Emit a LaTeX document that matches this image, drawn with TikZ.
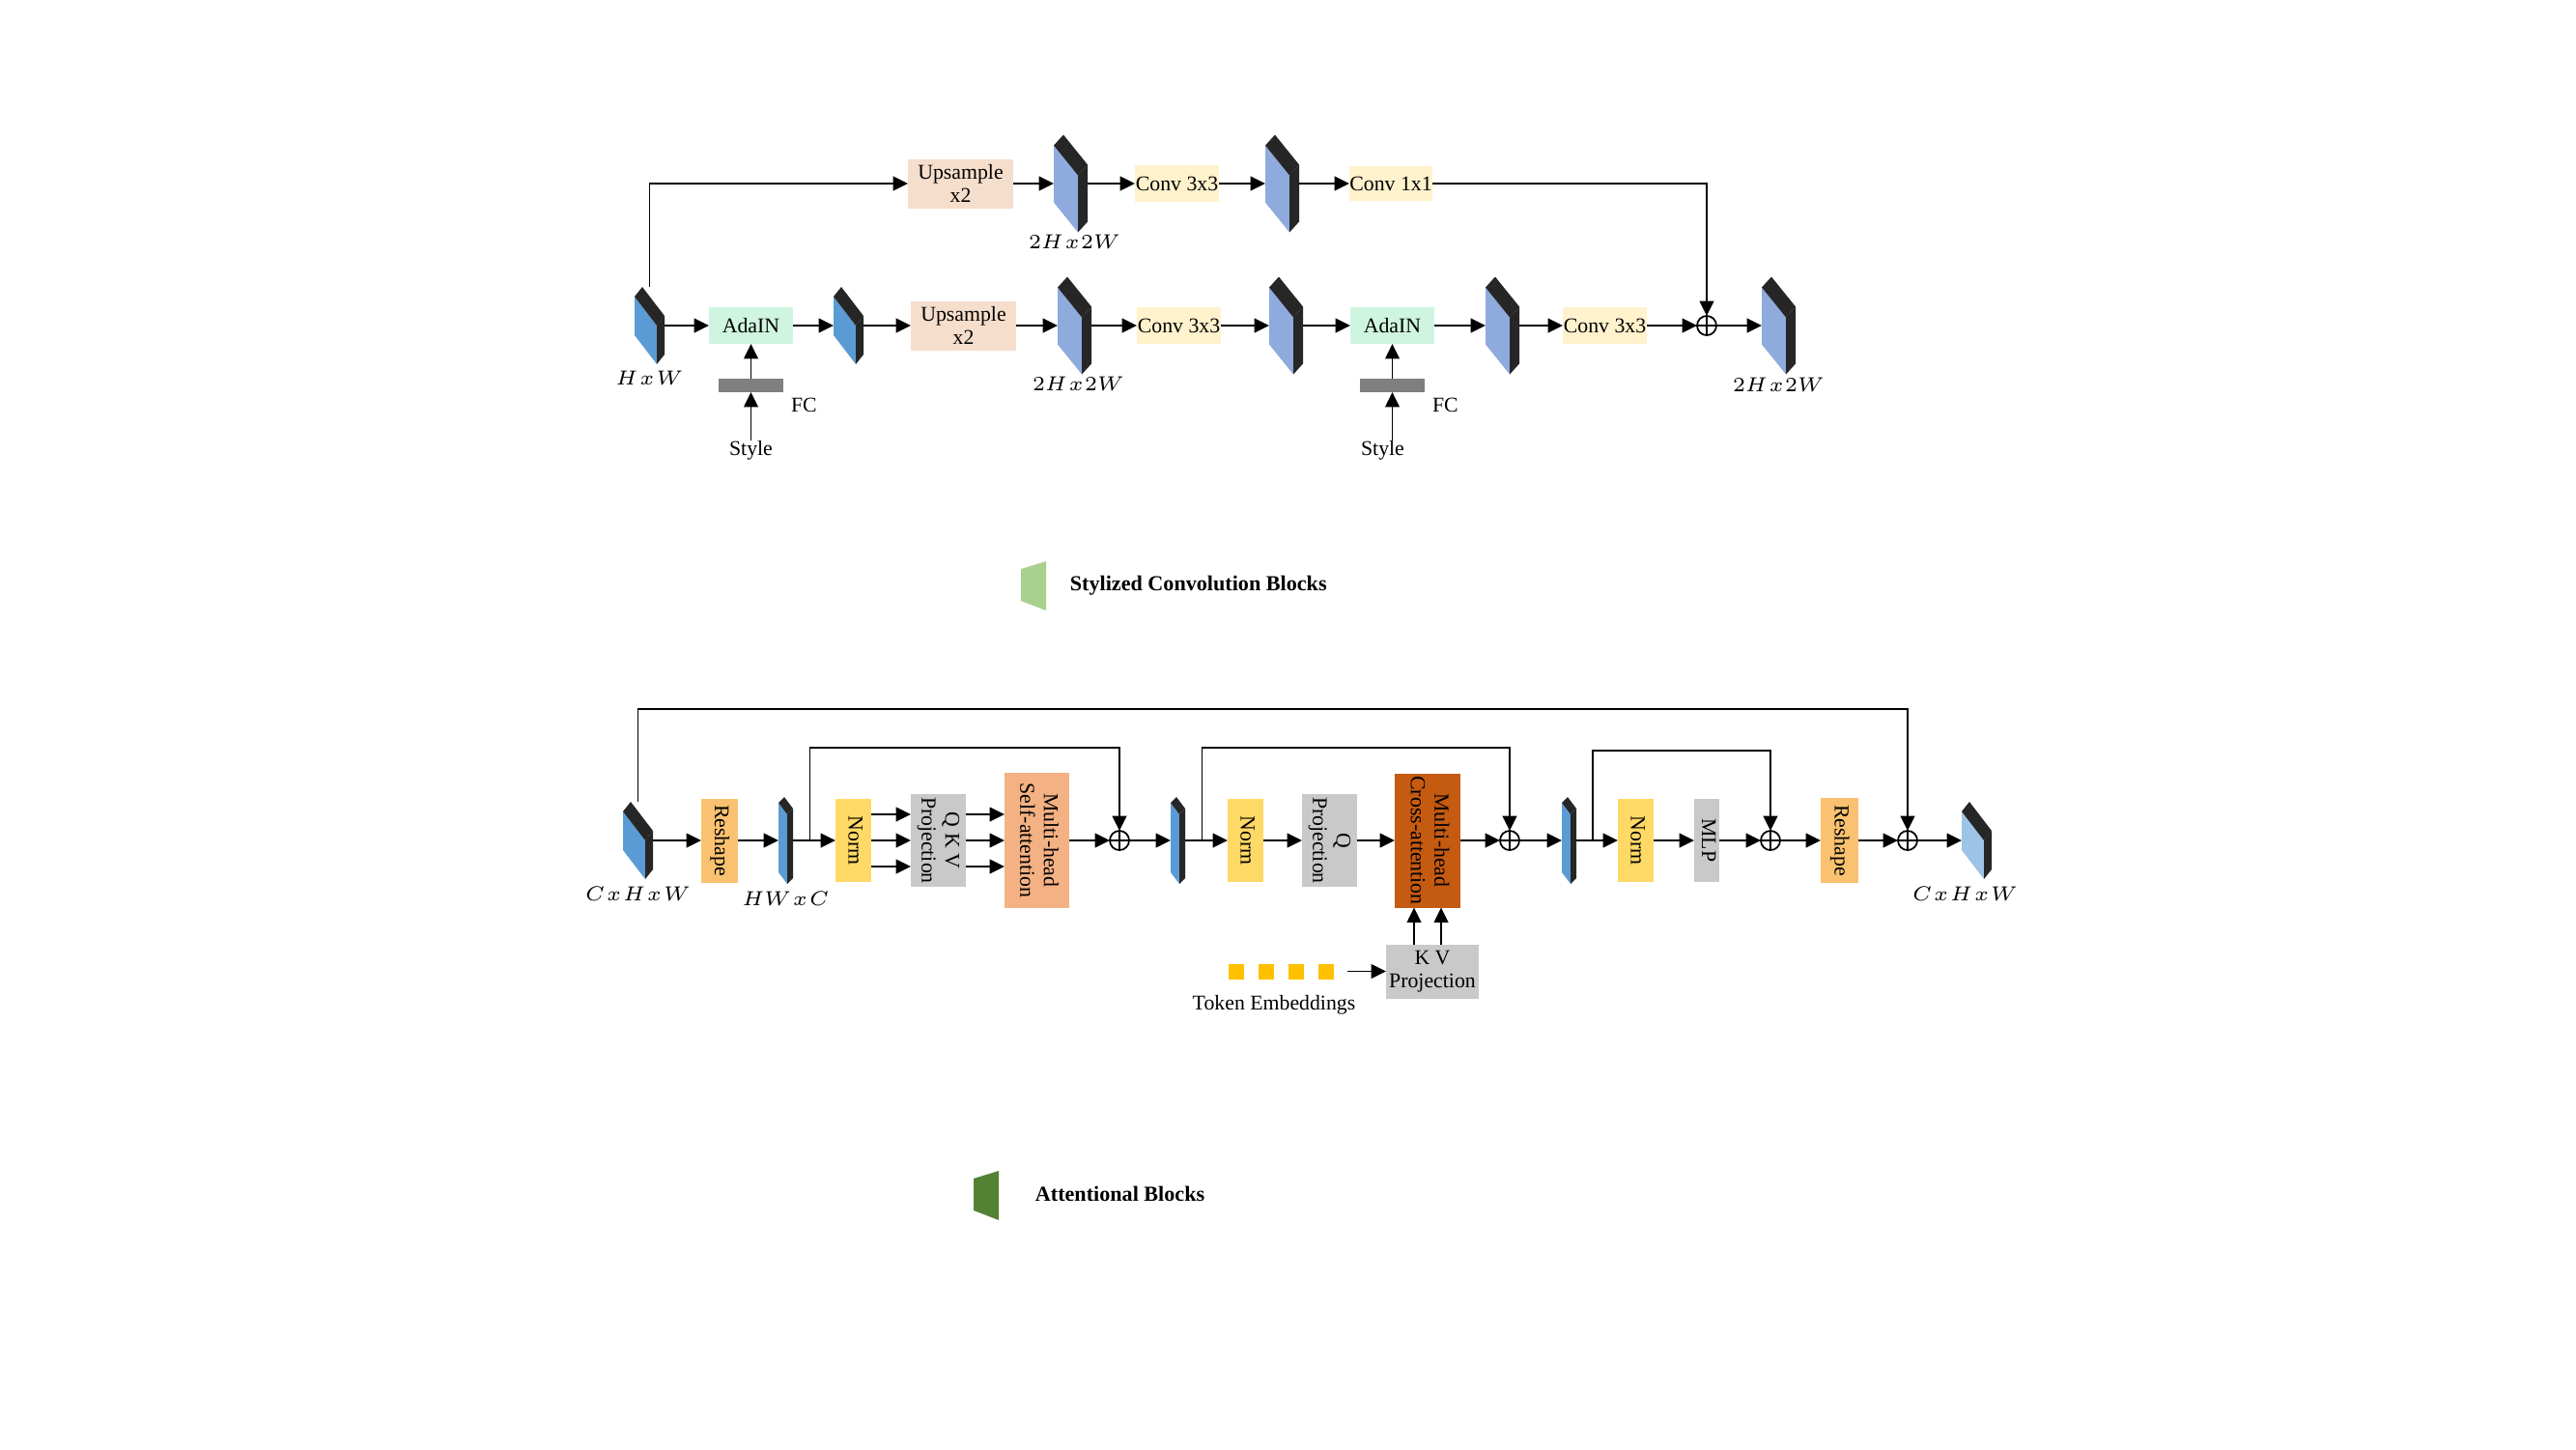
\documentclass[tikz,border=0pt]{standalone}
\usepackage{fontspec}
\setmainfont{Liberation Serif}
\usepackage{tikz}
\usetikzlibrary{positioning, calc, arrows.meta}
\definecolor{mapblue}{HTML}{5B9BD5}
\definecolor{maplav}{HTML}{8FAADC}
\definecolor{maplight}{HTML}{9DC3E6}
\definecolor{mapdark}{HTML}{262626}
\definecolor{upcol}{RGB}{246,222,204}
\definecolor{convcol}{HTML}{FFF2CC}
\definecolor{adacol}{RGB}{207,245,224}
\definecolor{fcgray}{HTML}{7F7F7F}
\definecolor{reshapecol}{RGB}{250,194,112}
\definecolor{normcol}{HTML}{FFD966}
\definecolor{projgray}{HTML}{C9C9C9}
\definecolor{sacol}{HTML}{F4B183}
\definecolor{cacol}{HTML}{C55A11}
\definecolor{tokcol}{HTML}{FFC000}
\definecolor{leglight}{HTML}{A9D18E}
\definecolor{legdark}{HTML}{548235}
\newcommand{\vtext}[1]{\rotatebox{-90}{\begin{tabular}{@{}c@{}}#1\end{tabular}}}
\makeatletter
\tikzset{
    fmap/.style={
        path picture={
            \fill[\fmap@front] ([yshift=-\fmap@dy]path picture bounding box.north west) -- ++(\fmap@w,-\fmap@s) -- ++(0,-\fmap@h) -- ++(-\fmap@w,\fmap@s) -- cycle;
            \fill[mapdark] ([yshift=-\fmap@dy]path picture bounding box.north west) -- ++(\fmap@dx,\fmap@dy) -- ++(\fmap@w,-\fmap@s) -- ++(-\fmap@dx,-\fmap@dy) -- cycle;
            \fill[mapdark] ([yshift=-\fmap@dy]path picture bounding box.north west) ++(\fmap@w,-\fmap@s) -- ++(\fmap@dx,\fmap@dy) -- ++(0,-\fmap@h) -- ++(-\fmap@dx,-\fmap@dy) -- cycle;
        },
        minimum width=\fmap@w+\fmap@dx,
        minimum height=\fmap@h+\fmap@s+\fmap@dy,
        inner sep=0pt, outer sep=0pt,
    },
    fmap width/.store in=\fmap@w,
    fmap height/.store in=\fmap@h,
    fmap slant/.store in=\fmap@s,
    fmap dx/.store in=\fmap@dx,
    fmap dy/.store in=\fmap@dy,
    fmap front/.store in=\fmap@front,
    fmap width=0.23cm, fmap height=0.40cm, fmap slant=0.30cm,
    fmap dx=0.08cm, fmap dy=0.10cm, fmap front=mapblue,
    smallmap/.style={fmap, fmap width=0.23cm, fmap height=0.40cm, fmap slant=0.30cm, fmap dx=0.08cm, fmap dy=0.10cm, fmap front=mapblue},
    bigmap/.style={fmap, fmap width=0.25cm, fmap height=0.59cm, fmap slant=0.31cm, fmap dx=0.10cm, fmap dy=0.11cm, fmap front=maplav},
    thinmap/.style={fmap, fmap width=0.09cm, fmap height=0.72cm, fmap slant=0.12cm, fmap dx=0.06cm, fmap dy=0.06cm, fmap front=mapblue},
    hbox/.style={rectangle, inner sep=0pt, outer sep=0pt, align=center},
    upbox/.style={hbox, fill=upcol, minimum width=1.09cm, minimum height=0.51cm},
    convbox/.style={hbox, fill=convcol, minimum width=0.87cm, minimum height=0.38cm},
    adabox/.style={hbox, fill=adacol, minimum width=0.87cm, minimum height=0.38cm},
    fcbar/.style={hbox, fill=fcgray, minimum width=0.67cm, minimum height=0.14cm},
    reshapebox/.style={hbox, fill=reshapecol, minimum width=0.38cm, minimum height=0.87cm},
    normbox/.style={hbox, fill=normcol, minimum width=0.37cm, minimum height=0.86cm},
    projbox/.style={hbox, fill=projgray, minimum width=0.57cm, minimum height=0.96cm},
    attbox/.style={hbox, minimum width=0.67cm, minimum height=1.40cm},
    token/.style={hbox, fill=tokcol, minimum size=0.16cm},
    oplus/.style={circle, draw, inner sep=0pt, outer sep=0pt, minimum size=0.2cm,
        path picture={\draw (path picture bounding box.north) -- (path picture bounding box.south) (path picture bounding box.west) -- (path picture bounding box.east);}},
    txt/.style={inner sep=0pt, outer sep=0pt},
    mathlbl/.style={inner sep=0pt, outer sep=0pt, font=\fontsize{6.4}{7.5}\selectfont},
    legendtxt/.style={inner sep=0pt, font=\fontsize{6.3}{7}\selectfont\bfseries},
}
\makeatother

\begin{document}
\begin{tikzpicture}[>={Triangle[length=4.4pt,width=4.2pt]}, line width=0.5pt, node distance=0pt, font=\fontsize{6.2}{7}\selectfont]
    \useasboundingbox (0,0) rectangle (26.67,-15);

    % stylized convolution block, main row
    \node[smallmap] (m_in) at (6.725,-3.37) {};
    \node[adabox] (ada1) [right=0.46cm of m_in] {AdaIN};
    \node[smallmap] (m_a1) [right=0.42cm of ada1] {};
    \node[upbox] (up2) [right=0.49cm of m_a1] {Upsample\\x2};
    \node[bigmap] (m_u2) [right=0.43cm of up2] {};
    \node[convbox] (cv2) [right=0.47cm of m_u2] {Conv 3x3};
    \node[bigmap] (m_c2) [right=0.50cm of cv2] {};
    \node[adabox] (ada2) [right=0.49cm of m_c2] {AdaIN};
    \node[bigmap] (m_a2) [right=0.53cm of ada2] {};
    \node[convbox] (cv3) [right=0.45cm of m_a2] {Conv 3x3};
    \node[oplus] (add1) [right=0.52cm of cv3] {};
    \node[bigmap] (m_out) [right=0.47cm of add1] {};

    % upper row
    \node[upbox] (up1) [above=0.96cm of up2, xshift=-0.03cm] {Upsample\\x2};
    \node[bigmap] (m_u1) [right=0.42cm of up1] {};
    \node[convbox] (cv1) [right=0.49cm of m_u1] {Conv 3x3};
    \node[bigmap] (m_c1) [right=0.48cm of cv1] {};
    \node[convbox, minimum width=0.86cm, minimum height=0.36cm] (cv11) [right=0.52cm of m_c1] {Conv 1x1};

    % style inputs
    \node[fcbar] (fc1) [below=0.36cm of ada1] {};
    \node[txt] (sty1) [below=0.5cm of fc1] {Style};
    \node[txt] (fcl1) [below right=0.06cm and 0.08cm of fc1] {FC};
    \node[fcbar] (fc2) [below=0.36cm of ada2] {};
    \node[txt] (sty2) [below=0.5cm of fc2, xshift=-0.1cm] {Style};
    \node[txt] (fcl2) [below right=0.06cm and 0.08cm of fc2] {FC};

    \node[mathlbl] (l_in) [below=0.07cm of m_in] {$H\mkern1.5mu x\mkern1.5mu W$};
    \node[mathlbl] (l_u1) [below=0.03cm of m_u1, xshift=0.04cm] {$2H\mkern1.5mu x\mkern1mu 2W$};
    \node[mathlbl] (l_u2) [below=0.03cm of m_u2, xshift=0.04cm] {$2H\mkern1.5mu x\mkern1mu 2W$};
    \node[mathlbl] (l_out) [below=0.04cm of m_out] {$2H\mkern1.5mu x\mkern1mu 2W$};

    \draw [->] (m_in) -- (ada1);
    \draw [->] (ada1) -- (m_a1);
    \draw [->] (m_a1) -- (up2);
    \draw [->] (up2) -- (m_u2);
    \draw [->] (m_u2) -- (cv2);
    \draw [->] (cv2) -- (m_c2);
    \draw [->] (m_c2) -- (ada2);
    \draw [->] (ada2) -- (m_a2);
    \draw [->] (m_a2) -- (cv3);
    \draw [->] (cv3) -- (add1);
    \draw [->] (add1) -- (m_out);
    \draw [->] (m_in.north) |- (up1);
    \draw [->] (up1) -- (m_u1);
    \draw [->] (m_u1) -- (cv1);
    \draw [->] (cv1) -- (m_c1);
    \draw [->] (m_c1) -- (cv11);
    \draw [->] (cv11) -| (add1);
    \draw [->] (sty1) -- (fc1);
    \draw [->] (fc1) -- (ada1);
    \draw [->] (sty2.north -| fc2) -- (fc2);
    \draw [->] (fc2) -- (ada2);

    % legends
    \fill[leglight] (10.57,-5.89) -- (10.83,-5.81) -- (10.83,-6.32) -- (10.57,-6.22) -- cycle;
    \node[legendtxt, anchor=west] (leg1) at (11.07,-6.06) {Stylized Convolution Blocks};
    \fill[legdark] (10.08,-12.20) -- (10.34,-12.12) -- (10.34,-12.63) -- (10.08,-12.53) -- cycle;
    \node[legendtxt, anchor=west] (leg2) at (10.71,-12.36) {Attentional Blocks};

    % attentional block
    \node[smallmap] (b_in) at (6.605,-8.70) {};
    \node[reshapebox] (rs1) [right=0.50cm of b_in] {\vtext{Reshape}};
    \node[thinmap] (b_hw) [right=0.42cm of rs1] {};
    \node[normbox] (nm1) [right=0.44cm of b_hw] {\vtext{Norm}};
    \node[projbox] (qkv) [right=0.41cm of nm1] {\vtext{Q K V\\Projection}};
    \node[attbox, fill=sacol] (msa) [right=0.40cm of qkv] {\vtext{Multi-head\\Self-attention}};
    \node[oplus] (add2) [right=0.42cm of msa] {};
    \node[thinmap] (b_sa) [right=0.43cm of add2] {};
    \node[normbox] (nm2) [right=0.44cm of b_sa] {\vtext{Norm}};
    \node[projbox] (qp) [right=0.40cm of nm2] {\vtext{Q\\Projection}};
    \node[attbox, fill=cacol, minimum width=0.68cm, minimum height=1.39cm] (mca) [right=0.39cm of qp] {\vtext{Multi-head\\Cross-attention}};
    \node[oplus] (add3) [right=0.41cm of mca] {};
    \node[thinmap] (b_ca) [right=0.44cm of add3] {};
    \node[normbox] (nm3) [right=0.43cm of b_ca] {\vtext{Norm}};
    \node[hbox, fill=projgray, minimum width=0.26cm, minimum height=0.86cm] (mlp) [right=0.42cm of nm3] {\vtext{MLP}};
    \node[oplus] (add4) [right=0.43cm of mlp] {};
    \node[reshapebox, minimum width=0.39cm, minimum height=0.88cm] (rs2) [right=0.42cm of add4] {\vtext{Reshape}};
    \node[oplus] (add5) [right=0.41cm of rs2] {};
    \node[smallmap, fmap front=maplight] (b_out) [right=0.46cm of add5] {};

    \node[mathlbl] (l_bin) [below=0.08cm of b_in] {$C\mkern1.5mu x\mkern1.5mu H\mkern1.5mu x\mkern1.5mu W$};
    \node[mathlbl] (l_bhw) [below=0.08cm of b_hw] {$HW\mkern1.5mu x\mkern1.5mu C$};
    \node[mathlbl] (l_bout) [below=0.08cm of b_out, xshift=-0.12cm] {$C\mkern1.5mu x\mkern1.5mu H\mkern1.5mu x\mkern1.5mu W$};

    % token embeddings
    \node[hbox, fill=projgray, minimum width=0.96cm, minimum height=0.56cm] (kv) [below=0.38cm of mca, xshift=0.05cm] {K V\\Projection};
    \node[token] (tok4) [left=0.54cm of kv] {};
    \node[token] (tok3) [left=0.15cm of tok4] {};
    \node[token] (tok2) [left=0.15cm of tok3] {};
    \node[token] (tok1) [left=0.15cm of tok2] {};
    \node[txt] (tokl) [below=0.17cm of tok2.south east] {Token Embeddings};

    \coordinate (br1) at ($(b_hw.east)!0.4!(nm1.west)$);
    \coordinate (br2) at ($(b_sa.east)!0.4!(nm2.west)$);
    \coordinate (br3) at ($(b_ca.east)!0.4!(nm3.west)$);

    \draw [->] (b_in) -- (rs1);
    \draw [->] (rs1) -- (b_hw);
    \draw [->] (b_hw) -- (nm1);
    \foreach \dy in {-0.27,0,0.27} {
        \draw [->] ([yshift=\dy cm]nm1.east) -- ([yshift=\dy cm]qkv.west);
        \draw [->] ([yshift=\dy cm]qkv.east) -- ([yshift=\dy cm]msa.west);
    }
    \draw [->] (msa) -- (add2);
    \draw [->] (add2) -- (b_sa);
    \draw [->] (b_sa) -- (nm2);
    \draw [->] (nm2) -- (qp);
    \draw [->] (qp) -- (mca);
    \draw [->] (mca) -- (add3);
    \draw [->] (add3) -- (b_ca);
    \draw [->] (b_ca) -- (nm3);
    \draw [->] (nm3) -- (mlp);
    \draw [->] (mlp) -- (add4);
    \draw [->] (add4) -- (rs2);
    \draw [->] (rs2) -- (add5);
    \draw [->] (add5) -- (b_out);

    \draw [->] (b_in.north) -- ++(0,0.96) -| (add5);
    \draw [->] (br1) -- ++(0,0.96) -| (add2);
    \draw [->] (br2) -- ++(0,0.96) -| (add3);
    \draw [->] (br3) -- ++(0,0.93) -| (add4);

    \foreach \dx in {-0.14,0.14}
        \draw [->] ([xshift=\dx cm]mca.south |- kv.north) -- ([xshift=\dx cm]mca.south);
    \draw [->, shorten <=0.14cm] (tok4) -- (kv);

\end{tikzpicture}
\end{document}
